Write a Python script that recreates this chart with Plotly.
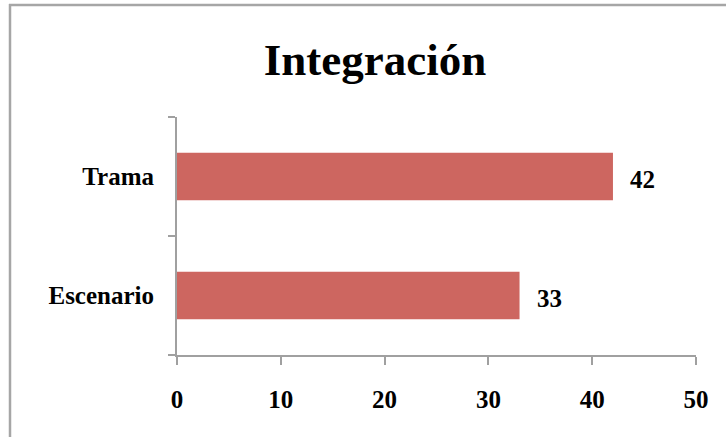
import plotly.graph_objects as go

categories = ["Escenario", "Trama"]
values = [33, 42]
x_ticks = [0, 10, 20, 30, 40, 50]
title_text = "Integración"

W, H = 726, 437
L, R, T, B = 177, 30, 117, 82
pw, ph = W - L - R, H - T - B

FONT = "Liberation Serif"
AXC = "#A0A0A0"

fig = go.Figure()
fig.add_trace(go.Bar(
    x=values, y=categories, orientation="h",
    marker=dict(color="#CD6660", line=dict(width=0)),
    hoverinfo="skip",
))

for v, c in zip(values, categories):
    fig.add_annotation(
        x=v, y=c, text="<b>%d</b>" % v, showarrow=False,
        xanchor="left", yanchor="middle", xshift=15, yshift=-3,
        font=dict(family=FONT, size=25, color="#000000"),
    )

# outer chart border (cropped chart area)
def px_x(p):
    return (p - L) / pw

def px_y(p):
    return (H - B - p) / ph

fig.add_shape(type="line", xref="paper", yref="paper",
              x0=px_x(9), x1=px_x(740), y0=px_y(5), y1=px_y(5),
              line=dict(color="#A6A6A6", width=2.5))
fig.add_shape(type="line", xref="paper", yref="paper",
              x0=px_x(10), x1=px_x(10), y0=px_y(4), y1=px_y(450),
              line=dict(color="#A6A6A6", width=2.5))

fig.update_layout(
    width=W, height=H,
    margin=dict(l=L, r=R, t=T, b=B, pad=0),
    paper_bgcolor="white", plot_bgcolor="white",
    showlegend=False,
    bargap=0.6,
    title=dict(text="<b>%s</b>" % title_text, x=(375) / W, xanchor="center",
               y=1 - 59 / H, yanchor="middle",
               font=dict(family=FONT, size=45, color="#000000")),
    xaxis=dict(
        range=[0, 50], tickvals=x_ticks, ticktext=["<b>%d</b>" % t for t in x_ticks],
        showgrid=False, zeroline=False,
        showline=True, linecolor=AXC, linewidth=2,
        ticks="outside", ticklen=8, tickwidth=2, tickcolor=AXC,
        ticklabelstandoff=13,
        tickfont=dict(family=FONT, size=25, color="#000000"),
        fixedrange=True,
    ),
    yaxis=dict(
        categoryorder="array", categoryarray=categories,
        ticktext=["<b>%s</b>" % c for c in categories], tickvals=categories,
        range=[-0.5, 1.5],
        showgrid=False, zeroline=False,
        showline=True, linecolor=AXC, linewidth=2,
        ticks="outside", ticklen=7, tickwidth=2, tickcolor=AXC,
        tickson="boundaries",
        ticklabelstandoff=16,
        tickfont=dict(family=FONT, size=25, color="#000000"),
        fixedrange=True,
    ),
)

fig.write_html("out.html", config={"displayModeBar": False})
